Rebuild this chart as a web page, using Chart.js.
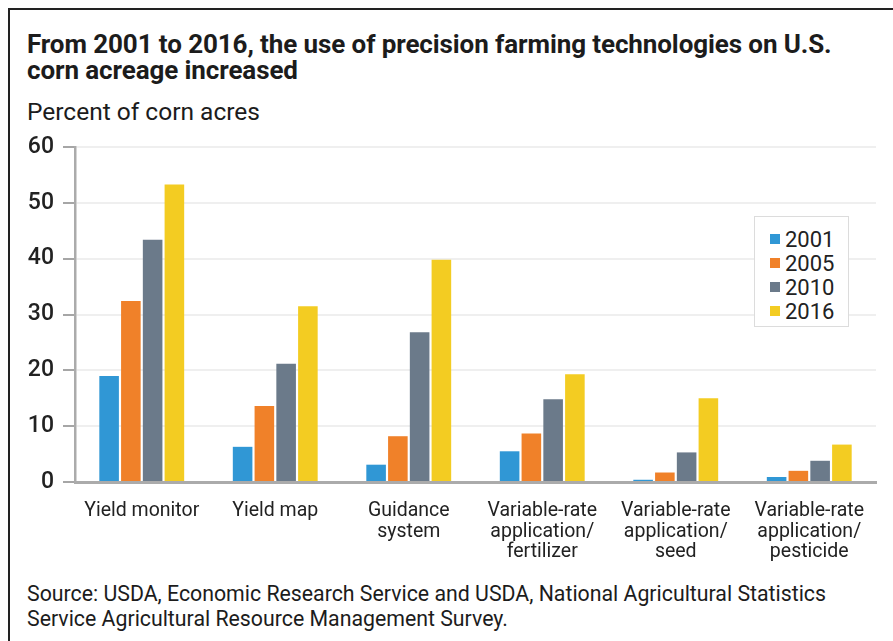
<!DOCTYPE html>
<html>
<head>
<meta charset="utf-8">
<title>Precision farming technologies on U.S. corn acreage</title>
<script src="https://cdn.jsdelivr.net/npm/chart.js@4.4.1/dist/chart.umd.min.js"></script>
<style>
  html, body { margin: 0; padding: 0; background: #fff; }
  body { width: 893px; height: 641px; position: relative; overflow: hidden; font-family: Roboto, "Liberation Sans", sans-serif; color: #1c1c1c; }
  .frame { position: absolute; left: 8px; top: 8px; right: 0; bottom: 0; border-left: 2px solid #222; border-top: 2px solid #222; }
  .title { position: absolute; left: 27px; top: 31px; font-size: 26px; font-weight: 700; line-height: 26px; margin: 0; letter-spacing: -0.1px; }
  .unit { position: absolute; left: 27px; top: 99px; font-size: 24.5px; line-height: 26px; }
  .source { position: absolute; left: 27px; top: 582px; font-size: 21.3px; line-height: 24.5px; }
  #chart { position: absolute; left: 0; top: 120px; }
  .legend { position: absolute; left: 754px; top: 216px; width: 95px; height: 111px; background: #fff; border: 1.5px solid #dcdcdc; box-sizing: border-box; padding: 10px 0 0 15px; }
  .legend div { display: flex; align-items: center; height: 24px; font-size: 22px; color: #222; }
  .legend span { display: inline-block; width: 10px; height: 10px; margin-right: 5px; }
</style>
</head>
<body>
<div class="frame"></div>
<h1 class="title">From 2001 to 2016, the use of precision farming technologies on U.S.<br>corn acreage increased</h1>
<div class="unit">Percent of corn acres</div>
<canvas id="chart" width="893" height="450"></canvas>
<div class="legend" id="legend"></div>
<div class="source">Source: USDA, Economic Research Service and USDA, National Agricultural Statistics<br>Service Agricultural Resource Management Survey.</div>

<script>
  const technologies = [
    'Yield monitor',
    'Yield map',
    ['Guidance', 'system'],
    ['Variable-rate', 'application/', 'fertilizer'],
    ['Variable-rate', 'application/', 'seed'],
    ['Variable-rate', 'application/', 'pesticide'],
  ];
  const years = ['2001', '2005', '2010', '2016'];
  const acres2001 = [19.0, 6.3, 3.1, 5.5, 0.4, 0.9];
  const acres2005 = [32.4, 13.6, 8.2, 8.7, 1.7, 2.0];
  const acres2010 = [43.4, 21.2, 26.8, 14.8, 5.3, 3.8];
  const acres2016 = [53.3, 31.5, 39.8, 19.3, 15.0, 6.7];
  const yearColors = ['#3097d5', '#f08129', '#6b7a8a', '#f3cc22'];

  const series = [acres2001, acres2005, acres2010, acres2016];

  const chart = new Chart(document.getElementById('chart'), {
    type: 'bar',
    data: {
      labels: technologies,
      datasets: series.map((values, i) => ({
        label: years[i],
        data: values,
        backgroundColor: yearColors[i],
        borderWidth: 0,
        categoryPercentage: 0.652,
        barPercentage: 0.9,
      })),
    },
    options: {
      responsive: false,
      animation: false,
      layout: { padding: { top: 27, right: 17, left: 0, bottom: 0 } },
      plugins: {
        legend: { display: false },
        tooltip: { enabled: false },
      },
      scales: {
        x: {
          afterFit: (scale) => { scale.height = 88; },
          grid: { display: false, drawTicks: false },
          border: { display: true, color: '#ababab', width: 3 },
          ticks: {
            padding: 19,
            maxRotation: 0,
            autoSkip: false,
            color: '#222',
            font: { family: 'Roboto', size: 19.5, lineHeight: 1.05 },
          },
        },
        y: {
          min: 0,
          max: 60,
          afterFit: (scale) => { scale.width = 75; },
          grid: { color: '#efefef', lineWidth: 2, tickLength: 12, tickColor: '#a6a6a6' },
          border: { display: true, color: '#ababab', width: 2.5 },
          ticks: {
            stepSize: 5,
            padding: 9,
            color: '#222',
            font: { family: 'Roboto', size: 23, weight: '500' },
            callback: (value) => (value % 10 === 0 ? value : ''),
          },
        },
      },
    },
  });

  // legend boxes built from the datasets
  document.getElementById('legend').innerHTML = chart.data.datasets
    .map((ds) => `<div><span style="background:${ds.backgroundColor}"></span>${ds.label}</div>`)
    .join('');
</script>
</body>
</html>
